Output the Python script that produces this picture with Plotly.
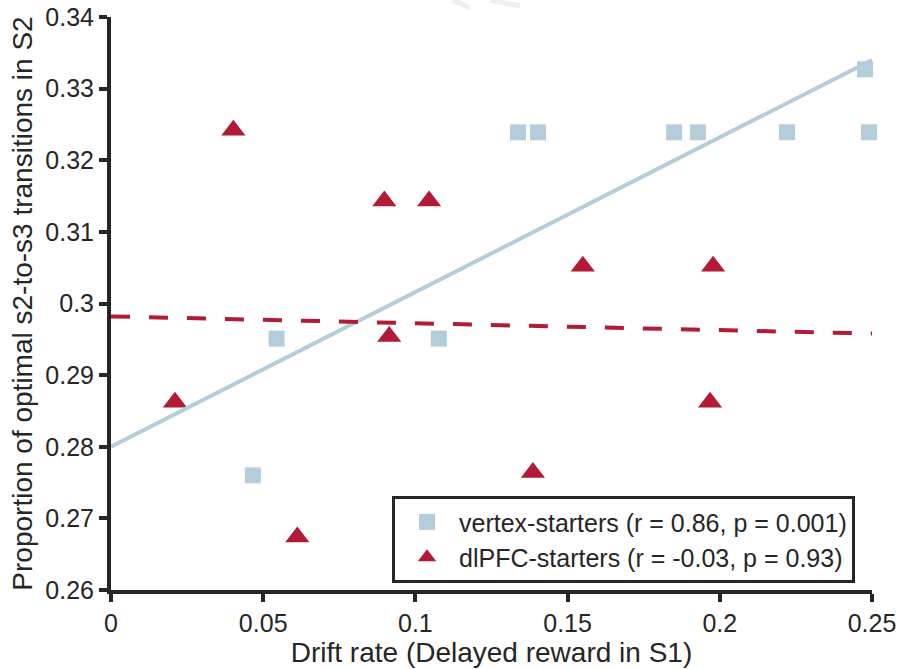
import plotly.graph_objects as go

# ---- data ----
vertex_x = [0.0466, 0.0544, 0.1077, 0.1337, 0.1403, 0.1850, 0.1928, 0.2221, 0.2477, 0.2490]
vertex_y = [0.2760, 0.2951, 0.2951, 0.3239, 0.3239, 0.3239, 0.3239, 0.3239, 0.3327, 0.3239]

dlpfc_x = [0.0210, 0.0402, 0.0612, 0.0898, 0.0914, 0.1045, 0.1386, 0.1550, 0.1968, 0.1978]
dlpfc_y = [0.2862, 0.3242, 0.2674, 0.3143, 0.2954, 0.3143, 0.2764, 0.3052, 0.2862, 0.3052]

fit_x = [0.0, 0.25]
vertex_fit_y = [0.2800, 0.3340]
dlpfc_fit_y = [0.2982, 0.2958]

x_ticks = [0, 0.05, 0.1, 0.15, 0.2, 0.25]
x_ticktext = ["0", "0.05", "0.1", "0.15", "0.2", "0.25"]
y_ticks = [0.26, 0.27, 0.28, 0.29, 0.30, 0.31, 0.32, 0.33, 0.34]
y_ticktext = ["0.26", "0.27", "0.28", "0.29", "0.3", "0.31", "0.32", "0.33", "0.34"]

vertex_label = "vertex-starters (r = 0.86, p = 0.001)"
dlpfc_label = "dlPFC-starters (r = -0.03, p = 0.93)"

BLUE = "#b3cddb"
RED = "#b21a36"
INK = "#262626"
FONT = "Liberation Sans, Arial, Helvetica, sans-serif"

fig = go.Figure()
fig.add_trace(go.Scatter(
    x=vertex_x, y=vertex_y, mode="markers", name=vertex_label,
    marker=dict(symbol="square", size=16, color=BLUE, line=dict(width=0)),
    cliponaxis=False,
))
fig.add_trace(go.Scatter(
    x=dlpfc_x, y=dlpfc_y, mode="markers", name=dlpfc_label,
    marker=dict(symbol="triangle-up", size=21, color=RED, line=dict(width=0)),
    cliponaxis=False,
))
fig.add_trace(go.Scatter(
    x=fit_x, y=vertex_fit_y, mode="lines", showlegend=False,
    line=dict(color=BLUE, width=4),
))
fig.add_trace(go.Scatter(
    x=fit_x, y=dlpfc_fit_y, mode="lines", showlegend=False,
    line=dict(color=RED, width=4, dash="19px,19px"),
))

# faint watermark strokes at the top of the image
for (x0, y0, x1, y1) in [(0.4494, 1.0297, 0.4717, 1.0157), (0.4980, 1.0297, 0.5375, 1.0192)]:
    fig.add_shape(type="line", xref="paper", yref="paper", x0=x0, y0=y0, x1=x1, y1=y1,
                  line=dict(color="#efefef", width=5), layer="below")

axis_common = dict(
    showgrid=False, zeroline=False, showline=True, linecolor=INK, linewidth=4,
    ticks="outside", ticklen=8, tickwidth=4, tickcolor=INK,
    tickfont=dict(size=25, color=INK, family=FONT),
    mirror=False, automargin=False,
)

fig.update_layout(
    width=898, height=669,
    margin=dict(l=111, r=26, t=17, b=79, autoexpand=False),
    paper_bgcolor="white", plot_bgcolor="white",
    font=dict(family=FONT, color=INK),
    xaxis=dict(range=[0, 0.25], tickvals=x_ticks, ticktext=x_ticktext,
               title=dict(text="Drift rate (Delayed reward in S1)", font=dict(size=28, color=INK), standoff=4),
               **axis_common),
    yaxis=dict(range=[0.26, 0.34], tickvals=y_ticks, ticktext=y_ticktext,
               title=dict(text="Proportion of optimal s2-to-s3 transitions in S2", font=dict(size=28, color=INK), standoff=6),
               **axis_common),
    legend=dict(
        x=0.9777, y=0.012, xanchor="right", yanchor="bottom",
        bgcolor="white", bordercolor=INK, borderwidth=3,
        font=dict(size=25, color=INK, family=FONT),
        itemsizing="trace", tracegroupgap=0, itemwidth=54,
    ),
    showlegend=True,
)

fig.write_html("out.html")
